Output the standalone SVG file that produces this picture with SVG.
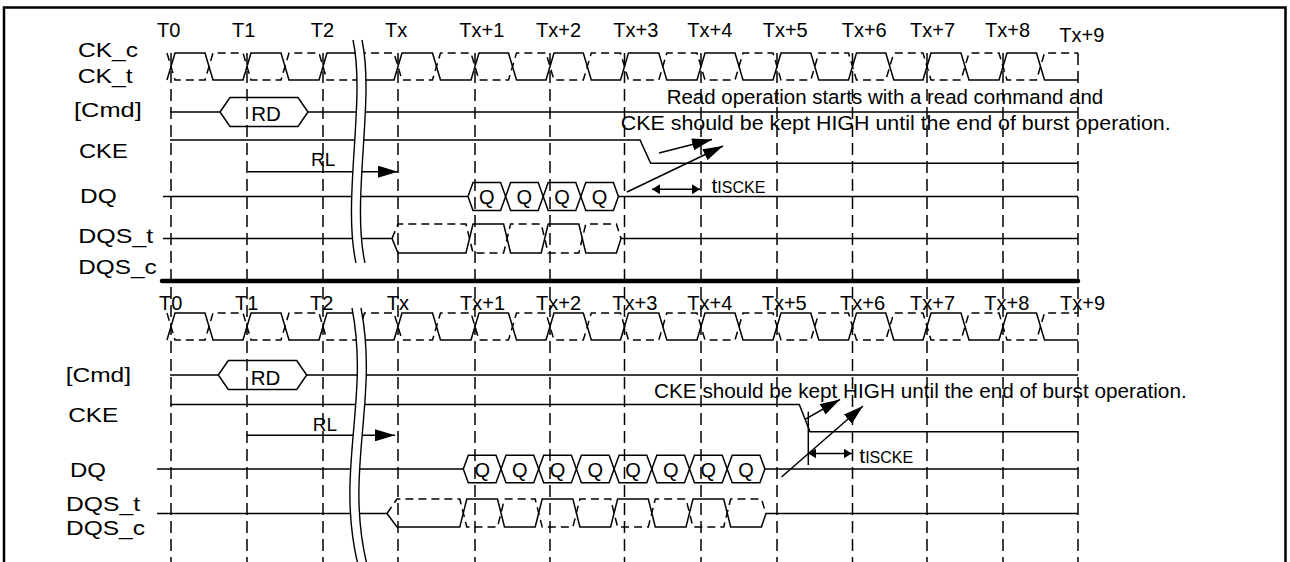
<svg xmlns="http://www.w3.org/2000/svg" width="1290" height="562" viewBox="0 0 1290 562">
<style>
text{font-family:"Liberation Sans",Arial,Helvetica,sans-serif;fill:#000}
.lb{font-size:21px}
.tk{font-size:20px}
.q{font-size:20px;text-anchor:middle}
.s{fill:none;stroke:#000;stroke-width:1.5}
.d{stroke-dasharray:8 5}
.g{fill:none;stroke:#000;stroke-width:1.5;stroke-dasharray:12 6}
.bk{fill:#fff;stroke:none}
.bl{fill:none;stroke:#000;stroke-width:1.4}
.hx{fill:none;stroke:#000;stroke-width:1.5}
</style>
<defs>
<marker id="ah" markerUnits="userSpaceOnUse" markerWidth="20" markerHeight="12" refX="20" refY="6" orient="auto" viewBox="0 0 20 12"><path d="M0,0 L20,6 L0,12 Z" fill="#000"/></marker>
<marker id="sm" markerUnits="userSpaceOnUse" markerWidth="8" markerHeight="10" refX="8" refY="5" orient="auto-start-reverse" viewBox="0 0 8 10"><path d="M0,0 L8,5 L0,10 Z" fill="#000"/></marker>
</defs>
<rect width="1290" height="562" fill="#fff"/>
<g id="frame"><path d="M4,562 V7.5 H1285.5 V562" fill="none" stroke="#000" stroke-width="2.5"/></g>
<g id="grid"><path class="g" d="M171,53V562M247,53V562M323,53V562M398,53V562M475,53V562M550,53V562M624.5,53V562M701,53V562M777,53V562M852.5,53V562M927,53V562M1003,53V562M1078,53V562"/></g>
<g id="separator"><path d="M162,281 H1078" stroke="#000" stroke-width="4.5" stroke-linecap="round"/></g>

<g id="top-ticks" class="tk">
<text x="157" y="37.3">T0</text><text x="232" y="37.3">T1</text><text x="310.7" y="37.3">T2</text><text x="385" y="37.3">Tx</text>
<text x="459.3" y="37.3">Tx+1</text><text x="536" y="37.3">Tx+2</text><text x="613.3" y="37.3">Tx+3</text><text x="687.3" y="37.3">Tx+4</text>
<text x="762.7" y="37.3">Tx+5</text><text x="841.7" y="37.3">Tx+6</text><text x="910" y="37.3">Tx+7</text><text x="985" y="37.3">Tx+8</text><text x="1059.3" y="41.5">Tx+9</text>
</g>
<g id="top-labels" class="lb">
<text x="78" y="57" textLength="60" lengthAdjust="spacingAndGlyphs">CK_c</text>
<text x="77.7" y="83" textLength="55" lengthAdjust="spacingAndGlyphs">CK_t</text>
<text x="74" y="117.3" textLength="67.7" lengthAdjust="spacingAndGlyphs">[Cmd]</text>
<text x="79" y="158.3" textLength="48.7" lengthAdjust="spacingAndGlyphs">CKE</text>
<text x="80" y="203.3" textLength="36.7" lengthAdjust="spacingAndGlyphs">DQ</text>
<text x="78.3" y="243" textLength="75" lengthAdjust="spacingAndGlyphs">DQS_t</text>
<text x="78.3" y="274" textLength="78.4" lengthAdjust="spacingAndGlyphs">DQS_c</text>
</g>

<g id="top-ck">
<path class="s" d="M167,80 L175,53 H205 L213,80 H243 L251,53 H281 L289,80 H319 L327,53 H356.5 L364.5,80 H394 L402,53 H432.5 L440.5,80 H471 L479,53 H508.5 L516.5,80 H546 L554,53 H583.3 L591.3,80 H620.5 L628.5,53 H658.8 L666.8,80 H697 L705,53 H735 L743,80 H773 L781,53 H810.8 L818.8,80 H848.5 L856.5,53 H885.8 L893.8,80 H923 L931,53 H961 L969,80 H999 L1007,53 H1036.5 L1044.5,80 H1078"/>
<path class="s d" d="M167,53 L175,80 H205 L213,53 H243 L251,80 H281 L289,53 H319 L327,80 H356.5 L364.5,53 H394 L402,80 H432.5 L440.5,53 H471 L479,80 H508.5 L516.5,53 H546 L554,80 H583.3 L591.3,53 H620.5 L628.5,80 H658.8 L666.8,53 H697 L705,80 H735 L743,53 H773 L781,80 H810.8 L818.8,53 H848.5 L856.5,80 H885.8 L893.8,53 H923 L931,80 H961 L969,53 H999 L1007,80 H1036.5 L1044.5,53 H1078"/>
</g>
<g id="top-cmd">
<path class="s" d="M170,112 H220 M308,112 H1078"/>
<path class="hx" d="M220,112 L230,97.5 H298 L308,112 L298,126.5 H230 Z"/>
<text x="266" y="120.5" style="font-size:20.5px;text-anchor:middle">RD</text>
</g>
<g id="top-cke"><path class="s" d="M170,140 H640 L650.7,163.3 H1078"/></g>
<g id="top-dq">
<path class="s" d="M163,196.5 H468 M618.4,196.5 H1078"/>
<path class="s" d="M468,196.5 L473,182.5 H500.6 L510.6,210.5 H538.2 L548.2,182.5 H575.8 L585.8,210.5 H613.4 L618.4,196.5"/>
<path class="s" d="M468,196.5 L473,210.5 H500.6 L510.6,182.5 H538.2 L548.2,210.5 H575.8 L585.8,182.5 H613.4 L618.4,196.5"/>
<text class="q" x="486.8" y="203.5">Q</text><text class="q" x="524.4" y="203.5">Q</text><text class="q" x="562" y="203.5">Q</text><text class="q" x="599.6" y="203.5">Q</text>
</g>
<g id="top-dqs">
<path class="s" d="M163,238.5 H392 L398,253 H466 L473,224 H503.6 L510.6,253 H541.2 L548.2,224 H578.8 L585.8,253 H616.4 L621,238.5 H1078"/>
<path class="s d" d="M392,238.5 L398,224 H466 L473,253 H503.6 L510.6,224 H541.2 L548.2,253 H578.8 L585.8,224 H616.4 L621,238.5"/>
</g>

<g id="bottom-ticks" class="tk">
<text x="159" y="309.5">T0</text><text x="235" y="309.5">T1</text><text x="310" y="309.5">T2</text><text x="386.7" y="309.5">Tx</text>
<text x="460" y="309.5">Tx+1</text><text x="536" y="309.5">Tx+2</text><text x="612.3" y="309.5">Tx+3</text><text x="687.3" y="309.5">Tx+4</text>
<text x="761.7" y="309.5">Tx+5</text><text x="840" y="309.5">Tx+6</text><text x="910" y="309.5">Tx+7</text><text x="984.3" y="309.5">Tx+8</text><text x="1060" y="309.5">Tx+9</text>
</g>
<g id="bottom-labels" class="lb">
<text x="65.7" y="381.5" textLength="65.3" lengthAdjust="spacingAndGlyphs">[Cmd]</text>
<text x="68.3" y="421.7" textLength="50" lengthAdjust="spacingAndGlyphs">CKE</text>
<text x="70" y="477" textLength="36" lengthAdjust="spacingAndGlyphs">DQ</text>
<text x="66" y="510.5" textLength="74" lengthAdjust="spacingAndGlyphs">DQS_t</text>
<text x="66" y="535" textLength="79" lengthAdjust="spacingAndGlyphs">DQS_c</text>
</g>
<g id="bottom-ck">
<path class="s" d="M167,340 L175,313 H205 L213,340 H243 L251,313 H281 L289,340 H319 L327,313 H356.5 L364.5,340 H394 L402,313 H432.5 L440.5,340 H471 L479,313 H508.5 L516.5,340 H546 L554,313 H583.3 L591.3,340 H620.5 L628.5,313 H658.8 L666.8,340 H697 L705,313 H735 L743,340 H773 L781,313 H810.8 L818.8,340 H848.5 L856.5,313 H885.8 L893.8,340 H923 L931,313 H961 L969,340 H999 L1007,313 H1036.5 L1044.5,340 H1078"/>
<path class="s d" d="M167,313 L175,340 H205 L213,313 H243 L251,340 H281 L289,313 H319 L327,340 H356.5 L364.5,313 H394 L402,340 H432.5 L440.5,313 H471 L479,340 H508.5 L516.5,313 H546 L554,340 H583.3 L591.3,313 H620.5 L628.5,340 H658.8 L666.8,313 H697 L705,340 H735 L743,313 H773 L781,340 H810.8 L818.8,313 H848.5 L856.5,340 H885.8 L893.8,313 H923 L931,340 H961 L969,313 H999 L1007,340 H1036.5 L1044.5,313 H1078"/>
</g>
<g id="bottom-cmd">
<path class="s" d="M170,375 H218.3 M306.7,375 H1078"/>
<path class="hx" d="M218.3,375 L228.3,360.5 H296.7 L306.7,375 L296.7,389.5 H228.3 Z"/>
<text x="265.5" y="385" style="font-size:20.5px;text-anchor:middle">RD</text>
</g>
<g id="bottom-cke">
<path class="s" d="M170,404.5 H799.3 L810,431.7 H1078"/>
<path class="s" d="M808.3,411.7 V465"/>
</g>
<g id="bottom-dq">
<path class="s" d="M157,469 H463.3 M764.9,469 H1078"/>
<path class="s" d="M463.3,469 L468.3,455.3 H496 L506,482.7 H533.7 L543.7,455.3 H571.4 L581.4,482.7 H609.1 L619.1,455.3 H646.8 L656.8,482.7 H684.5 L694.5,455.3 H722.2 L732.2,482.7 H759.9 L764.9,469"/>
<path class="s" d="M463.3,469 L468.3,482.7 H496 L506,455.3 H533.7 L543.7,482.7 H571.4 L581.4,455.3 H609.1 L619.1,482.7 H646.8 L656.8,455.3 H684.5 L694.5,482.7 H722.2 L732.2,455.3 H759.9 L764.9,469"/>
<text class="q" x="482.2" y="476.5">Q</text><text class="q" x="519.9" y="476.5">Q</text><text class="q" x="557.6" y="476.5">Q</text><text class="q" x="595.3" y="476.5">Q</text>
<text class="q" x="633" y="476.5">Q</text><text class="q" x="670.7" y="476.5">Q</text><text class="q" x="708.4" y="476.5">Q</text><text class="q" x="746.1" y="476.5">Q</text>
</g>
<g id="bottom-dqs">
<path class="s" d="M157,513.5 H387 L397,527 H459.8 L466.8,499 H497.5 L504.5,527 H535.2 L542.2,499 H572.9 L579.9,527 H610.6 L617.6,499 H648.3 L655.3,527 H686 L693,499 H723.7 L730.7,527 H761.4 L766,513.5 H1078"/>
<path class="s d" d="M387,513.5 L397,499 H459.8 L466.8,527 H497.5 L504.5,499 H535.2 L542.2,527 H572.9 L579.9,499 H610.6 L617.6,527 H648.3 L655.3,499 H686 L693,527 H723.7 L730.7,499 H761.4 L766,513.5"/>
</g>

<g id="connectors">
<path class="s" d="M248,171.7 H398" marker-end="url(#ah)"/>
<path class="s" d="M246.7,435.3 H395" marker-end="url(#ah)"/>
<path class="s" d="M659,153 L712,139.5" marker-end="url(#ah)"/>
<path class="s" d="M627,192 L723,146" marker-end="url(#ah)"/>
<path class="s" d="M652,189.3 H700" marker-start="url(#sm)" marker-end="url(#sm)"/>
<path class="s" d="M805,419.3 L840,399.5" marker-end="url(#ah)"/>
<path class="s" d="M781.5,477 L863,406" marker-end="url(#ah)"/>
<path class="s" d="M808.3,453.5 H851.7" marker-start="url(#sm)" marker-end="url(#sm)"/>
</g>

<g id="break-top">
<path class="bk" d="M353,40 C366,100 342,200 356,263 L365,263 C351,200 375,100 362,40 Z"/>
<path class="bl" d="M353,40 C366,100 342,200 356,263 M362,40 C375,100 351,200 365,263"/>
</g>
<g id="break-bottom">
<path class="bk" d="M352,308 C370,400 335,470 358,565 L367,565 C344,470 379,400 361,308 Z"/>
<path class="bl" d="M352,308 C370,400 335,470 358,565 M361,308 C379,400 344,470 367,565"/>
</g>

<g id="annotations">
<text x="311" y="165.5" style="font-size:19px">RL</text>
<text x="312.7" y="430.5" style="font-size:19px">RL</text>
<text x="666.7" y="104" style="font-size:20.5px" textLength="436.5" lengthAdjust="spacingAndGlyphs">Read operation starts with a read command and</text>
<text x="620.7" y="129.5" style="font-size:21px" textLength="550" lengthAdjust="spacingAndGlyphs">CKE should be kept HIGH until the end of burst operation.</text>
<text x="654" y="398" style="font-size:20.5px" textLength="532.7" lengthAdjust="spacingAndGlyphs">CKE should be kept HIGH until the end of burst operation.</text>
<text x="711.5" y="192.5" style="font-size:21px">t<tspan style="font-size:16px">ISCKE</tspan></text>
<text x="859.3" y="462.7" style="font-size:21px">t<tspan style="font-size:16px">ISCKE</tspan></text>
</g>
</svg>
